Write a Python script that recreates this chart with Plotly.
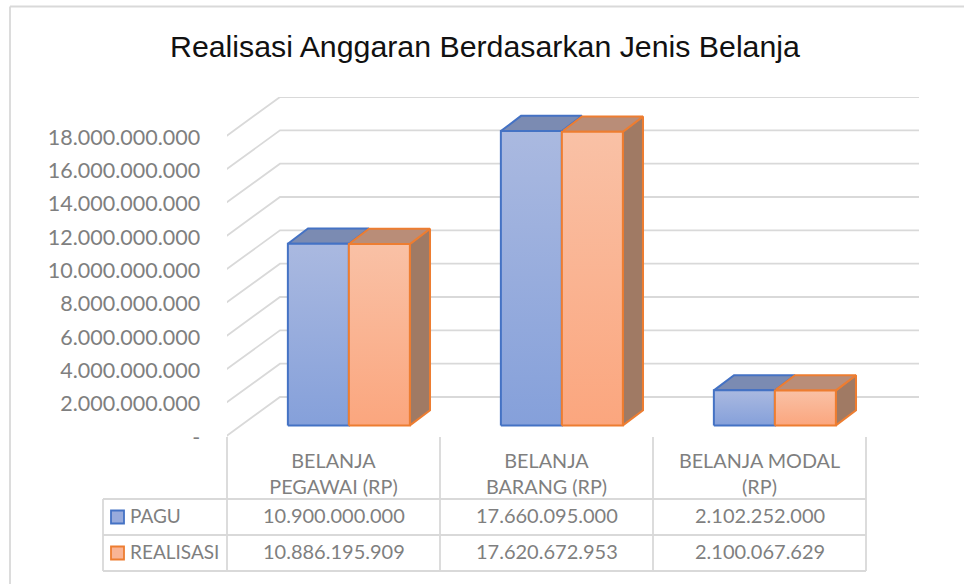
import plotly.graph_objects as go

# ---- data ----
categories = ["BELANJA<br>PEGAWAI (RP)", "BELANJA<br>BARANG (RP)", "BELANJA MODAL<br>(RP)"]
pagu = [10900000000, 17660095000, 2102252000]
realisasi = [10886195909, 17620672953, 2100067629]
tick_values = [0, 2e9, 4e9, 6e9, 8e9, 10e9, 12e9, 14e9, 16e9, 18e9]
tick_labels = ["-", "2.000.000.000", "4.000.000.000", "6.000.000.000", "8.000.000.000",
               "10.000.000.000", "12.000.000.000", "14.000.000.000", "16.000.000.000", "18.000.000.000"]
series_names = ["PAGU", "REALISASI"]

# ---- pixel layout of the drawing ----
W, H = 964, 584
L, R, T, B = 227, 919, 97, 437      # plot area (front plane floor at bottom)
CAT_PX = 213.0
PX_PER_VAL = (B - 137) / 18e9
X0, X1 = -0.5, -0.5 + (R - L) / CAT_PX
Y0, Y1 = 0, (B - T) / PX_PER_VAL
DX = 53 / CAT_PX                    # oblique depth vector (depth=1) in data units
DY = 40 / PX_PER_VAL
D_FRONT, D_BACK = 0.29, 0.67
BAR_W = 61 / CAT_PX

GRID = "#d9d9d9"
TXT = "#7f7f7f"
STYLE = {
    "PAGU": dict(line="#4472c4", top="#7b8bb2", grad=["#aab9e0", "#85a0da"], swatch="#98abdc"),
    "REALISASI": dict(line="#ed7d31", top="#b98d78", grad=["#f9c1a6", "#fba67e"], swatch="#f9b495", side="#a07a64"),
}


def P(x, v, d):
    return x + d * DX, v + d * DY


def px_x(p):
    return (p - L) / (R - L)


def px_y(p):
    return (B - p) / (B - T)


def poly(fig, pts, fill=None, line=None, lw=2, grad=None):
    xs = [p[0] for p in pts] + [pts[0][0]]
    ys = [p[1] for p in pts] + [pts[0][1]]
    kw = dict(x=xs, y=ys, mode="lines", fill="toself", hoverinfo="skip",
              showlegend=False, cliponaxis=False,
              line=dict(color=line or "rgba(0,0,0,0)", width=lw, simplify=False))
    if grad:
        kw["fillgradient"] = dict(type="vertical", colorscale=[[0, grad[1]], [1, grad[0]]])
        kw["fillcolor"] = None
    else:
        kw["fillcolor"] = fill
    fig.add_trace(go.Scatter(**kw))


fig = go.Figure()

# gridlines: along left wall, then along back wall
for v in tick_values:
    a, b = P(X0 - 2 / CAT_PX, v, 0), P(X0, v, 1)
    fig.add_trace(go.Scatter(x=[a[0], b[0], X1], y=[a[1], b[1], b[1]], mode="lines",
                             line=dict(color=GRID, width=1.8), hoverinfo="skip",
                             showlegend=False, cliponaxis=False))

# bars
for i in range(3):
    for k, (name, vals) in enumerate(zip(series_names, [pagu, realisasi])):
        st = STYLE[name]
        left = i - BAR_W + k * BAR_W
        right = left + BAR_W
        v = vals[i]
        if k == 1:
            poly(fig, [P(right, 0, D_FRONT), P(right, 0, D_BACK), P(right, v, D_BACK), P(right, v, D_FRONT)],
                 fill=st["side"], line=st["line"])
        poly(fig, [P(left, v, D_FRONT), P(left, v, D_BACK), P(right, v, D_BACK), P(right, v, D_FRONT)],
             fill=st["top"], line=st["line"])
    for k, (name, vals) in enumerate(zip(series_names, [pagu, realisasi])):
        st = STYLE[name]
        left = i - BAR_W + k * BAR_W
        right = left + BAR_W
        v = vals[i]
        poly(fig, [P(left, 0, D_FRONT), P(right, 0, D_FRONT), P(right, v, D_FRONT), P(left, v, D_FRONT)],
             line=st["line"], grad=st["grad"])

# data table
shapes = []
line = dict(color=GRID, width=1.8)


def seg(x0, y0, x1, y1):
    shapes.append(dict(type="line", xref="paper", yref="paper", x0=px_x(x0), x1=px_x(x1),
                       y0=px_y(y0), y1=px_y(y1), line=line))


ROWS = [499, 535, 571]
for py in ROWS:
    seg(103, py, 866, py)
seg(103, ROWS[0], 103, ROWS[2])
for c in range(4):
    x = L + c * CAT_PX
    seg(x, B, x, ROWS[2])
# chart frame: its left and top edges show, the others run off the picture
seg(10, 6.5, 964, 6.5)
seg(10, 6.5, 10, 584)

annotations = [dict(text="Realisasi Anggaran Berdasarkan Jenis Belanja", xref="paper", yref="paper",
                    x=px_x(485), y=px_y(46), showarrow=False, xanchor="center", yanchor="middle",
                    font=dict(family="Liberation Sans", size=30.3, color="#111111"))]

for r, (name, vals) in enumerate(zip(series_names, [pagu, realisasi])):
    ymid = (ROWS[r] + ROWS[r + 1]) / 2
    st = STYLE[name]
    shapes.append(dict(type="rect", xref="paper", yref="paper", x0=px_x(111), x1=px_x(124),
                       y0=px_y(ymid - 6.5), y1=px_y(ymid + 6.5), fillcolor=st["swatch"],
                       line=dict(color=st["line"], width=1.8)))
    annotations.append(dict(text=name, xref="paper", yref="paper", x=px_x(128), y=px_y(ymid - 2),
                            showarrow=False, xanchor="left", yanchor="middle",
                            font=dict(family="Lato", size=19, color=TXT)))
    for i, v in enumerate(vals):
        annotations.append(dict(text=f"{v:,}".replace(",", "."), x=i, xref="x", yref="paper", y=px_y(ymid - 2),
                                showarrow=False, xanchor="center", yanchor="middle",
                                font=dict(family="Lato", size=20, color=TXT)))

fig.update_layout(
    width=W, height=H, autosize=False,
    margin=dict(l=L, r=W - R, t=T, b=H - B),
    paper_bgcolor="white", plot_bgcolor="rgba(0,0,0,0)",
    showlegend=False, shapes=shapes, annotations=annotations,
    xaxis=dict(range=[X0, X1], tickvals=[0, 1, 2], ticktext=categories, showgrid=False, zeroline=False,
               showline=False, ticks="outside", ticklen=6, tickcolor="rgba(0,0,0,0)",
               tickfont=dict(family="Lato", size=19.8, color=TXT)),
    yaxis=dict(range=[Y0, Y1], tickvals=tick_values, ticktext=tick_labels, showgrid=False, zeroline=False,
               showline=False, ticks="outside", ticklen=21.5, tickcolor="rgba(0,0,0,0)",
               tickfont=dict(family="Lato", size=21.5, color=TXT)),
)
fig.write_html("out.html", config={"displayModeBar": False},
               post_script="document.body.style.margin='0';document.body.style.overflow='hidden';")
